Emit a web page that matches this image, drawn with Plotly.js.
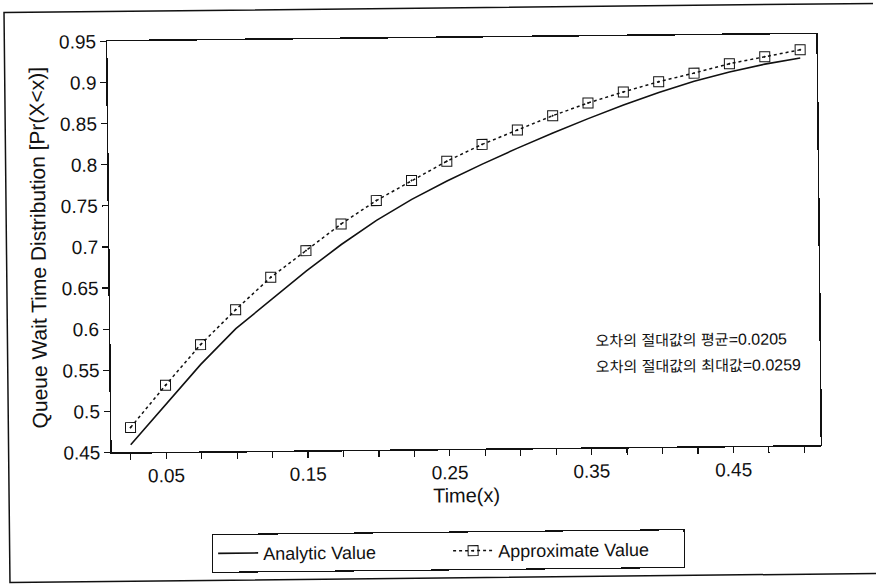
<!DOCTYPE html>
<html>
<head>
<meta charset="utf-8">
<script src="https://cdn.plot.ly/plotly-3.0.1.min.js"></script>
<style>
  html, body { margin: 0; padding: 0; background: #ffffff; overflow: hidden; }
  #chart { width: 876px; height: 588px; transform: rotate(-0.6deg); transform-origin: 50% 50%; }
</style>
</head>
<body>
<div id="chart"></div>
<script>
// Queue wait time distribution: analytic CDF vs. approximation
const timeX = [0.025, 0.05, 0.075, 0.1, 0.125, 0.15, 0.175, 0.2, 0.225, 0.25,
               0.275, 0.3, 0.325, 0.35, 0.375, 0.4, 0.425, 0.45, 0.475, 0.5];
const analyticValue = [0.459, 0.508, 0.556, 0.599, 0.634, 0.668, 0.700, 0.729, 0.754, 0.776,
                       0.796, 0.815, 0.833, 0.850, 0.866, 0.881, 0.894, 0.905, 0.914, 0.921];
const approximateValue = [0.480, 0.531, 0.580, 0.622, 0.661, 0.693, 0.725, 0.753, 0.777, 0.800,
                          0.820, 0.837, 0.854, 0.869, 0.882, 0.894, 0.904, 0.915, 0.923, 0.931];

const xTickVals = [0.05, 0.15, 0.25, 0.35, 0.45];
const xTickText = ['0.05', '0.15', '0.25', '0.35', '0.45'];
const yTickVals = [0.45, 0.5, 0.55, 0.6, 0.65, 0.7, 0.75, 0.8, 0.85, 0.9, 0.95];
const yTickText = ['0.45', '0.5', '0.55', '0.6', '0.65', '0.7', '0.75', '0.8', '0.85', '0.9', '0.95'];

const seriesNames = ['Analytic Value', 'Approximate Value'];
// error statistics: label words and values
const statLabels = [['오차의', '절대값의', '평균'], ['오차의', '절대값의', '최대값']];
const statValues = ['0.0205', '0.0259'];
const statX = 0.352;
const statY = [0.581, 0.549];

const FONT = 'Liberation Sans, Arial, Noto Sans CJK KR, sans-serif';
const KFONT = 'Noto Sans CJK KR, sans-serif';
const INK = '#111111';

function statText(words, value) {
  const k = words.map(w => `<span style="font-family:${KFONT};font-size:15px">${w}</span>`).join(' ');
  return `${k}=${value}`;
}

const traces = [
  {
    x: timeX, y: analyticValue, name: seriesNames[0],
    type: 'scatter', mode: 'lines',
    line: { color: INK, width: 1.6 }
  },
  {
    x: timeX, y: approximateValue, name: seriesNames[1],
    type: 'scatter', mode: 'lines+markers',
    line: { color: INK, width: 1.5, dash: 'dot' },
    marker: { symbol: 'square-open-dot', size: 10, color: INK, line: { width: 1, color: INK } }
  }
];

const layout = {
  width: 876, height: 588,
  margin: { l: 110, r: 57, t: 38, b: 139 },
  paper_bgcolor: '#ffffff', plot_bgcolor: '#ffffff',
  font: { family: FONT, color: INK, size: 19 },
  showlegend: true,
  legend: {
    orientation: 'h', x: 0.4735, xanchor: 'center', y: -0.201, yanchor: 'top',
    bordercolor: INK, borderwidth: 1.2, bgcolor: '#ffffff',
    font: { family: FONT, size: 18, color: INK },
    itemwidth: 40, entrywidth: 180, entrywidthmode: 'pixels'
  },
  xaxis: {
    range: [0.0115, 0.5115],
    tickmode: 'array', tickvals: xTickVals, ticktext: xTickText,
    ticks: 'outside', ticklen: 6, tickwidth: 1.2, tickcolor: INK,
    minor: { dtick: 0.025, tick0: 0, ticks: 'outside', ticklen: 6, tickwidth: 1.2, tickcolor: INK },
    showline: true, linecolor: INK, linewidth: 1.5, mirror: true,
    showgrid: false, zeroline: false,
    tickfont: { family: FONT, size: 19, color: INK },
    title: { text: 'Time(x)', font: { family: FONT, size: 20, color: INK }, standoff: 6 }
  },
  yaxis: {
    range: [0.45, 0.95],
    tickmode: 'array', tickvals: yTickVals, ticktext: yTickText,
    ticks: 'outside', ticklen: 6, tickwidth: 1.2, tickcolor: INK,
    showline: true, linecolor: INK, linewidth: 1.5, mirror: true,
    showgrid: false, zeroline: false,
    tickfont: { family: FONT, size: 19, color: INK },
    title: { text: 'Queue Wait Time Distribution [Pr(X<x)]', font: { family: FONT, size: 21, color: INK }, standoff: 9 }
  },
  annotations: statLabels.map((words, i) => ({
    x: statX, y: statY[i], xref: 'x', yref: 'y',
    text: statText(words, statValues[i]), showarrow: false, xanchor: 'left', yanchor: 'middle',
    font: { family: FONT, size: 16, color: INK }
  })),
  shapes: [
    {
      type: 'rect', xref: 'paper', yref: 'paper',
      x0: -0.1453, x1: 1.09, y0: -0.3139, y1: 1.073,
      line: { color: INK, width: 1.5 }, fillcolor: 'rgba(0,0,0,0)', layer: 'below'
    }
  ]
};

Plotly.newPlot('chart', traces, layout, { staticPlot: true, displayModeBar: false });
</script>
</body>
</html>
